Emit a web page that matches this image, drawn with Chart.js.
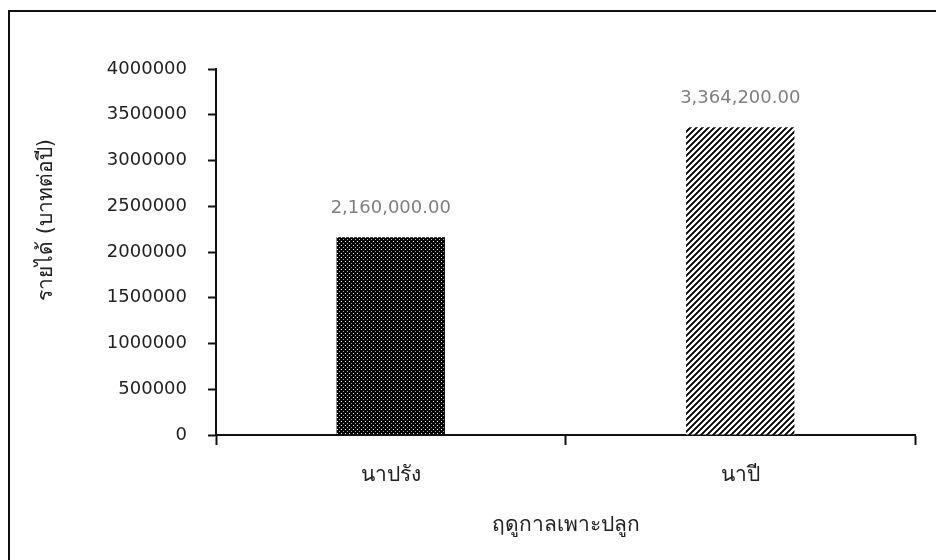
<!DOCTYPE html>
<html>
<head>
<meta charset="utf-8">
<script src="https://cdn.jsdelivr.net/npm/chart.js@4"></script>
<style>
    html, body { margin: 0; padding: 0; background: #fff; }
    #wrap { width: 936px; height: 560px; position: relative; }
</style>
</head>
<body>
<div id="wrap"><canvas id="chart" width="936" height="560"></canvas></div>
<script>
// Data
const categories = ['นาปรัง', 'นาปี'];
const incomeValues = [2160000, 3364200];
const valueLabels = ['2,160,000.00', '3,364,200.00'];
const yTicks = [0, 500000, 1000000, 1500000, 2000000, 2500000, 3000000, 3500000, 4000000];
const yTitle = 'รายได้ (บาทต่อปี)';
const xTitle = 'ฤดูกาลเพาะปลูก';

const FONT = '"DejaVu Sans", "Noto Sans", sans-serif';

// Fill patterns for the two bars
function dotPattern() {
    const c = document.createElement('canvas');
    c.width = 4; c.height = 4;
    const g = c.getContext('2d');
    g.fillStyle = '#000';
    g.fillRect(0, 0, 4, 4);
    g.fillStyle = '#fff';
    g.fillRect(1, 1, 1, 1);
    g.fillStyle = '#aaa';
    g.fillRect(3, 3, 1, 1);
    return g.createPattern(c, 'repeat');
}

function stripePattern() {
    const c = document.createElement('canvas');
    c.width = 6; c.height = 6;
    const g = c.getContext('2d');
    g.fillStyle = '#fff';
    g.fillRect(0, 0, 6, 6);
    for (let y = 0; y < 6; y++) {
        for (let x = 0; x < 6; x++) {
            const k = (x + y) % 6;
            if (k < 3) {
                g.fillStyle = k === 1 ? '#000' : '#333';
                g.fillRect(x, y, 1, 1);
            }
        }
    }
    return g.createPattern(c, 'repeat');
}

// Frame, axis titles and value labels
const extrasPlugin = {
    id: 'extras',
    afterDraw(chart) {
        const ctx = chart.ctx;
        ctx.save();
        // picture frame (left and top edges only visible)
        ctx.strokeStyle = '#111';
        ctx.lineWidth = 2;
        ctx.beginPath();
        ctx.moveTo(9, 560);
        ctx.lineTo(9, 11);
        ctx.lineTo(936, 11);
        ctx.stroke();

        // value labels above bars
        const meta = chart.getDatasetMeta(0);
        ctx.fillStyle = '#7f7f7f';
        ctx.font = '18px ' + FONT;
        ctx.textAlign = 'center';
        ctx.textBaseline = 'alphabetic';
        meta.data.forEach((bar, i) => {
            ctx.fillText(valueLabels[i], bar.x, bar.y - 24);
        });

        // axis titles
        ctx.fillStyle = '#222';
        ctx.font = '21px ' + FONT;
        ctx.textBaseline = 'middle';
        const area = chart.chartArea;
        ctx.fillText(xTitle, (area.left + area.right) / 2, 526);
        ctx.translate(47, 220);
        ctx.rotate(-Math.PI / 2);
        ctx.fillText(yTitle, 0, 0);
        ctx.restore();
    }
};

new Chart(document.getElementById('chart'), {
    type: 'bar',
    data: {
        labels: categories,
        datasets: [{
            data: incomeValues,
            backgroundColor: [dotPattern(), stripePattern()],
            borderWidth: 0,
            categoryPercentage: 1,
            barPercentage: 0.31
        }]
    },
    options: {
        responsive: false,
        animation: false,
        layout: { padding: { left: 0, top: 69, right: 21, bottom: 0 } },
        plugins: {
            legend: { display: false },
            tooltip: { enabled: false }
        },
        scales: {
            x: {
                grid: {
                    offset: true,
                    drawOnChartArea: false,
                    drawTicks: true,
                    tickLength: 10,
                    tickWidth: 2,
                    tickColor: '#111'
                },
                border: { color: '#111', width: 2 },
                ticks: {
                    color: '#222',
                    font: { family: FONT, size: 21 },
                    padding: 18
                },
                afterFit(scale) { scale.height = 560 - 435; }
            },
            y: {
                min: 0,
                max: 4000000,
                afterBuildTicks(scale) { scale.ticks = yTicks.map(v => ({ value: v })); },
                grid: {
                    drawOnChartArea: false,
                    drawTicks: true,
                    tickLength: 8,
                    tickWidth: 2,
                    tickColor: '#111'
                },
                border: { color: '#111', width: 2 },
                ticks: {
                    color: '#222',
                    font: { family: FONT, size: 18 },
                    padding: 21,
                    callback: v => String(v)
                },
                afterFit(scale) { scale.width = 216; }
            }
        }
    },
    plugins: [extrasPlugin]
});
</script>
</body>
</html>
